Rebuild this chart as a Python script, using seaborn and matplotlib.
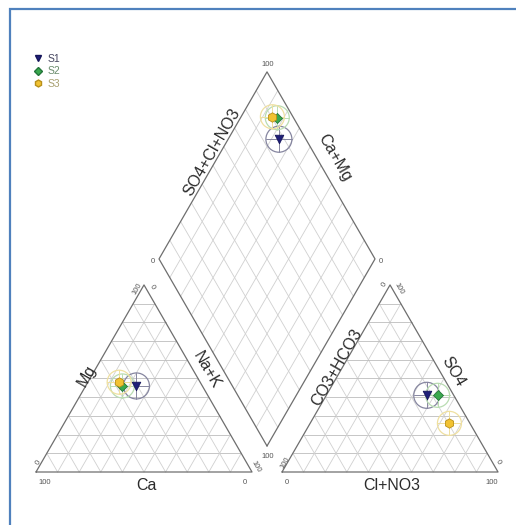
import numpy as np
import pandas as pd
import matplotlib
matplotlib.use('Agg')
import matplotlib.pyplot as plt
import seaborn as sns
from matplotlib.patches import Circle, Rectangle
from matplotlib.lines import Line2D

# ==================== data (meq %) ====================
samples = ['S1', 'S2', 'S3']
ca = [30.5, 37.0, 37.5]
mg = [46.0, 46.0, 48.0]
nak = [23.5, 17.0, 14.5]
hco3 = [12.5, 7.5, 9.5]
so4 = [41.0, 41.0, 26.0]
cl = [46.5, 51.5, 64.5]

# styles
colors = {'S1': '#1f1f78', 'S2': '#3aa84e', 'S3': '#f2c232'}
edges = {'S1': '#14145a', 'S2': '#23753a', 'S3': '#b8901a'}
markers = {'S1': 'v', 'S2': 'D', 'S3': 'h'}
msize = {'S1': 38, 'S2': 26, 'S3': 46}
ring_col = {'S1': '#8686a0', 'S2': '#b9dcb2', 'S3': '#efe0a0'}
ring_r = {'S1': 13, 'S2': 12, 'S3': 12}
text_col = {'S1': '#45455f', 'S2': '#6a8c6c', 'S3': '#a8a070'}

sns.set_theme(style='white')
plt.rcParams['font.family'] = ['Liberation Sans', 'DejaVu Sans']

W, H = 516, 525
S = 216.0          # pixels per triangle side
X0, Y0 = 36, 472   # pixel position of the origin
g = 0.139          # gap between the triangles
h = np.sqrt(3) / 2

fig = plt.figure(figsize=(W / 100, H / 100), dpi=100)
ax = fig.add_axes([0, 0, 1, 1])
ax.set_xlim(-X0 / S, (W - X0) / S)
ax.set_ylim(-(H - Y0) / S, Y0 / S)
ax.axis('off')


def off(p, dx, dy):
    return p[0] + dx / S, p[1] - dy / S


def seg(p, q, **kw):
    ax.plot([p[0], q[0]], [p[1], q[1]], **kw)


def lerp(p, q, f):
    return (p[0] + f * (q[0] - p[0]), p[1] + f * (q[1] - p[1]))


grid_kw = dict(color='#d0d0d0', lw=0.6, zorder=1)
hgrid_kw = dict(color='#bdbdbd', lw=0.6, zorder=1)
edge_kw = dict(color='#6e6e6e', lw=0.9, zorder=2)


def triangle(A, B, C):
    for i in range(1, 10):
        f = i / 10
        seg(lerp(A, C, f), lerp(B, C, f), **hgrid_kw)
        seg(lerp(A, B, f), lerp(C, B, f), **grid_kw)
        seg(lerp(B, A, f), lerp(C, A, f), **grid_kw)
    ax.plot([A[0], B[0], C[0], A[0]], [A[1], B[1], C[1], A[1]], **edge_kw)


LA, LB, LC = (0, 0), (1, 0), (0.5, h)
RA, RB, RC = (1 + g, 0), (2 + g, 0), (1.5 + g, h)
DB = (1 + g / 2, g * h)
DL = (0.5 + g / 2, (1 + g) * h)
DR = (1.5 + g / 2, (1 + g) * h)
DT = (1 + g / 2, (2 + g) * h)

triangle(LA, LB, LC)
triangle(RA, RB, RC)
for i in range(1, 10):
    f = i / 10
    seg(lerp(DB, DR, f), lerp(DL, DT, f), **grid_kw)
    seg(lerp(DB, DL, f), lerp(DR, DT, f), **grid_kw)
ax.plot([DB[0], DR[0], DT[0], DL[0], DB[0]], [DB[1], DR[1], DT[1], DL[1], DB[1]], **edge_kw)

# ==================== tick labels ====================
tk = dict(fontsize=5.5, color='#555555', ha='center', va='center')
ax.text(*off(LA, 9, 11), '100', **tk)
ax.text(*off(LA, 2, -10), '0', rotation=60, **tk)
ax.text(*off(LC, -7, 4), '100', rotation=60, **tk)
ax.text(*off(LC, 8, 2), '0', rotation=-60, **tk)
ax.text(*off(LB, -7, 11), '0', **tk)
ax.text(*off(LB, 4, -5), '100', rotation=-60, **tk)

ax.text(*off(RA, 5, 11), '0', **tk)
ax.text(*off(RA, 3, -9), '100', rotation=60, **tk)
ax.text(*off(RC, -6, 0), '0', rotation=60, **tk)
ax.text(*off(RC, 9, 4), '100', rotation=-60, **tk)
ax.text(*off(RB, -6, 11), '100', **tk)
ax.text(*off(RB, 0, -10), '0', rotation=-60, **tk)

ax.text(*off(DT, 1, -7), '100', **tk)
ax.text(*off(DL, -6, 3), '0', **tk)
ax.text(*off(DR, 6, 3), '0', **tk)
ax.text(*off(DB, 1, 11), '100', **tk)

# ==================== axis titles ====================
lab = dict(fontsize=11.5, color='#2b2b2b', ha='center', va='center')
ax.text(*off(lerp(LA, LC, 0.5), -3, -3), 'Mg', rotation=60, **lab)
ax.text(*off(lerp(LB, LC, 0.5), 9, -8), 'Na+K', rotation=-60, **lab)
ax.text(*off(lerp(LA, LB, 0.5), 2, 13), 'Ca', **lab)
ax.text(*off(lerp(RA, RC, 0.5), 1, -11), 'CO3+HCO3', rotation=60, **lab)
ax.text(*off(lerp(RB, RC, 0.5), 9, -7), 'SO4', rotation=-60, **lab)
ax.text(*off(lerp(RA, RB, 0.5), 2, 13), 'Cl+NO3', **lab)
ax.text(*off(lerp(DL, DT, 0.5), -1, -13), 'SO4+Cl+NO3', rotation=60, **lab)
ax.text(*off(lerp(DR, DT, 0.5), 14, -8), 'Ca+Mg', rotation=-60, **lab)

# ==================== project samples ====================
rows = []
for i, s in enumerate(samples):
    rows.append((s, 'cation', nak[i] / 100 + mg[i] / 200, mg[i] / 100 * h))
    rows.append((s, 'anion', 1 + g + cl[i] / 100 + so4[i] / 200, so4[i] / 100 * h))
    t = 2 + g - hco3[i] / 100 - nak[i] / 100
    rows.append((s, 'diamond', nak[i] / 100 + t / 2, t * h))
df = pd.DataFrame(rows, columns=['sample', 'panel', 'x', 'y'])

for s in samples:
    sub = df[df['sample'] == s]
    r = ring_r[s] / S
    for _, p in sub.iterrows():
        ax.add_patch(Circle((p['x'], p['y']), r, fill=False, ec=ring_col[s], lw=0.9, zorder=3))
        seg((p['x'] - r, p['y']), (p['x'] + r, p['y']), color=ring_col[s], lw=0.7, zorder=3)
        seg((p['x'], p['y'] - r), (p['x'], p['y'] + r), color=ring_col[s], lw=0.7, zorder=3)

for s in samples:
    sub = df[df['sample'] == s]
    sns.scatterplot(data=sub, x='x', y='y', marker=markers[s], color=colors[s],
                    edgecolor=edges[s], linewidth=0.6, s=msize[s], ax=ax, zorder=5, legend=False)
ax.set_xlabel('')
ax.set_ylabel('')

# ==================== legend ====================
handles = [Line2D([], [], ls='', marker=markers[s], markerfacecolor=colors[s],
                  markeredgecolor=edges[s], markersize=5 if s != 'S2' else 4) for s in samples]
leg = ax.legend(handles, samples, loc='upper left', bbox_to_anchor=(34 / W, 1 - 54 / H),
                frameon=False, fontsize=7.5, handlelength=0.8, handletextpad=0.5,
                labelspacing=0.22, borderpad=0, borderaxespad=0)
for t, s in zip(leg.get_texts(), samples):
    t.set_color(text_col[s])

# blue frame
fig.patches.append(Rectangle((10 / W, -0.1), 1.2, 1.1 - 9 / H, transform=fig.transFigure,
                             fill=False, ec='#4f81bd', lw=1.6, zorder=10))

plt.savefig('out.png', dpi=100)
plt.close()
